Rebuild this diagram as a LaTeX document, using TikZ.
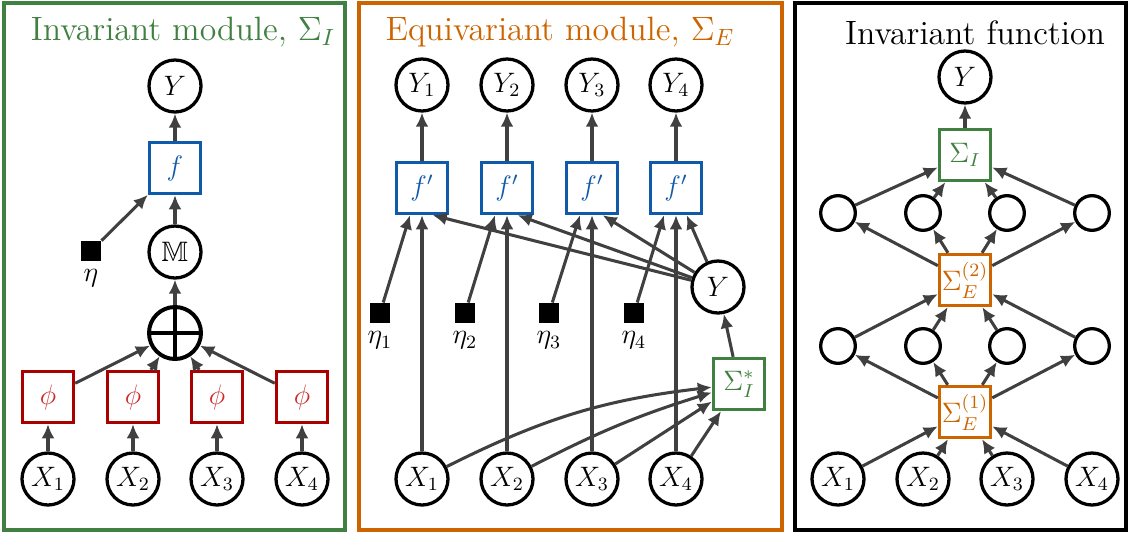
\documentclass[tikz,border=0pt]{standalone}
\usepackage{amsmath,amssymb}
\usepackage{tikz}
\usetikzlibrary{arrows.meta,positioning}

\definecolor{invgreen}{RGB}{64,128,64}
\definecolor{eqorange}{RGB}{204,100,0}
\definecolor{fblue}{RGB}{16,90,170}
\definecolor{phired}{RGB}{170,0,0}
\definecolor{phitext}{RGB}{205,40,40}
\definecolor{arrowgray}{RGB}{64,64,64}

\begin{document}
\begin{tikzpicture}[
    x=0.015cm, y=-0.015cm,
    font=\large,
    var/.style={circle, draw, line width=1.4pt, minimum size=0.78cm, inner sep=0pt},
    hid/.style={circle, draw, line width=1.4pt, minimum size=0.52cm, inner sep=0pt},
    fbox/.style={rectangle, draw=fblue, text=fblue, line width=1.3pt, minimum size=0.77cm, inner sep=0pt},
    phibox/.style={rectangle, draw=phired, text=phitext, line width=1.3pt, minimum size=0.77cm, inner sep=0pt},
    sigIbox/.style={rectangle, draw=invgreen, text=invgreen, line width=1.3pt, minimum size=0.77cm, inner sep=0pt},
    sigEbox/.style={rectangle, draw=eqorange, text=eqorange, line width=1.3pt, minimum size=0.77cm, inner sep=0pt},
    noise/.style={rectangle, fill=black, minimum size=0.3cm, inner sep=0pt},
    title/.style={font=\Large},
    frame/.style={line width=1.3pt},
    arrow/.style={-{Latex[length=6pt,width=5.5pt]}, line width=1.3pt, draw=arrowgray}
]
    \useasboundingbox (0,0) rectangle (1128,533);

    % Rahmen
    \draw[frame, draw=invgreen] (4,3) rectangle (345,530);
    \draw[frame, draw=eqorange] (359,3) rectangle (782,530);
    \draw[frame] (795,3) rectangle (1126,530);

    % Invariantes Modul
    \node[title, text=invgreen] (titleI) at (183,32) {Invariant module, $\Sigma_I$};
    \node[var] (Y) at (175,86) {$Y$};
    \node[fbox] (f) at (175,168) {$f$};
    \node[var] (M) at (175,252) {$\mathbb{M}$};
    \node[noise] (eta) at (91,251) {};
    \node[below=0pt of eta] (etalab) {$\eta$};
    \node[var, line width=1.7pt] (sum) at (175,333) {};
    \draw[line width=1.7pt] (sum.north) -- (sum.south) (sum.west) -- (sum.east);
    \foreach \i/\x in {1/48,2/133,3/217,4/302} {
        \node[phibox] (phi\i) at (\x,397) {$\phi$};
        \node[var] (X\i) at (\x,479) {$X_\i$};
        \draw[arrow] (X\i) -- (phi\i);
        \draw[arrow] (phi\i) -- (sum);
    }
    \draw[arrow] (sum) -- (M);
    \draw[arrow] (M) -- (f);
    \draw[arrow] (eta) -- (f);
    \draw[arrow] (f) -- (Y);

    % Aequivariantes Modul
    \node[title, text=eqorange] (titleE) at (560,32) {Equivariant module, $\Sigma_E$};
    \node[var] (Ym) at (718,287) {$Y$};
    \node[sigIbox] (sigstar) at (739,384) {$\Sigma_I^*$};
    \foreach \i/\x/\e in {1/422/380,2/507/465,3/592/549,4/676/634} {
        \node[var] (Yo\i) at (\x,85) {$Y_\i$};
        \node[fbox] (fp\i) at (\x,188) {$f'$};
        \node[noise] (etae\i) at (\e,313) {};
        \node[below=0pt of etae\i] (etael\i) {$\eta_\i$};
        \node[var] (Xe\i) at (\x,479) {$X_\i$};
        \draw[arrow] (fp\i) -- (Yo\i);
        \draw[arrow] (Xe\i) -- (fp\i);
        \draw[arrow] (etae\i) -- ([xshift=-0.18cm]fp\i.south);
        \draw[arrow] (Ym) -- ([xshift=0.16cm]fp\i.south);
    }
    \draw[arrow] (Xe1) to[bend left=10] (sigstar);
    \draw[arrow] (Xe2) to[bend left=5] (sigstar);
    \draw[arrow] (Xe3) -- (sigstar);
    \draw[arrow] (Xe4) -- (sigstar);
    \draw[arrow] (sigstar) -- (Ym);

    % Invariante Funktion
    \node[title] (titleF) at (975,33) {Invariant function};
    \node[var] (Yf) at (965,77) {$Y$};
    \node[sigIbox] (sigI) at (965,155) {$\Sigma_I$};
    \node[sigEbox] (sigE2) at (965,280) {$\Sigma_E^{(2)}$};
    \node[sigEbox] (sigE1) at (965,412) {$\Sigma_E^{(1)}$};
    \foreach \i/\x in {1/838,2/923,3/1007,4/1092} {
        \node[hid] (hb\i) at (\x,213) {};
        \node[hid] (ha\i) at (\x,346) {};
        \node[var] (Xf\i) at (\x,479) {$X_\i$};
        \draw[arrow] (Xf\i) -- (sigE1);
        \draw[arrow] (sigE1) -- (ha\i);
        \draw[arrow] (ha\i) -- (sigE2);
        \draw[arrow] (sigE2) -- (hb\i);
        \draw[arrow] (hb\i) -- (sigI);
    }
    \draw[arrow] (sigI) -- (Yf);
\end{tikzpicture}
\end{document}
